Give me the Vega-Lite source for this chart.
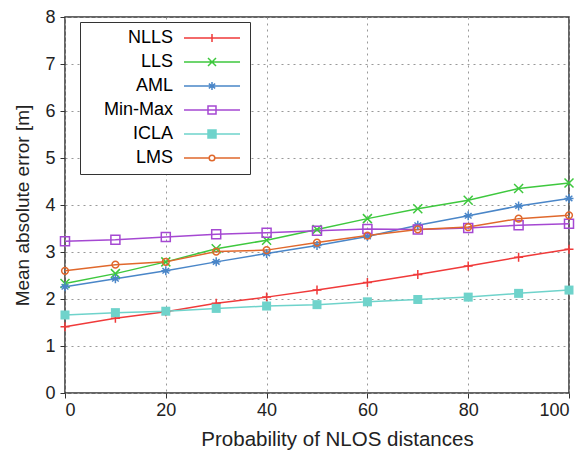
{
  "$schema": "https://vega.github.io/schema/vega-lite/v6.json",
  "width": 504,
  "height": 376,
  "autosize": "none",
  "padding": {"left": 65, "top": 17, "right": 19, "bottom": 61},
  "background": "white",
  "config": {
    "view": {"stroke": "#333333", "strokeWidth": 1.5},
    "font": "Liberation Sans",
    "axis": {
      "labelFont": "Liberation Sans",
      "titleFont": "Liberation Sans",
      "labelFontSize": 18,
      "titleFontSize": 19,
      "titleFontWeight": "normal",
      "labelColor": "#222222",
      "titleColor": "#222222",
      "grid": true,
      "gridColor": "#999999",
      "gridDash": [2, 4],
      "gridWidth": 1,
      "domain": false,
      "tickColor": "#333333",
      "tickSize": 5
    },
    "legend": {
      "labelFont": "Liberation Sans",
      "labelFontSize": 18
    }
  },
  "data": {
    "values": [
      {"x": 0, "series": "NLLS", "y": 1.41},
      {"x": 10, "series": "NLLS", "y": 1.59},
      {"x": 20, "series": "NLLS", "y": 1.73},
      {"x": 30, "series": "NLLS", "y": 1.91},
      {"x": 40, "series": "NLLS", "y": 2.04},
      {"x": 50, "series": "NLLS", "y": 2.19},
      {"x": 60, "series": "NLLS", "y": 2.35},
      {"x": 70, "series": "NLLS", "y": 2.52},
      {"x": 80, "series": "NLLS", "y": 2.7},
      {"x": 90, "series": "NLLS", "y": 2.89},
      {"x": 100, "series": "NLLS", "y": 3.06},
      {"x": 0, "series": "LLS", "y": 2.33},
      {"x": 10, "series": "LLS", "y": 2.54},
      {"x": 20, "series": "LLS", "y": 2.79},
      {"x": 30, "series": "LLS", "y": 3.07},
      {"x": 40, "series": "LLS", "y": 3.25},
      {"x": 50, "series": "LLS", "y": 3.48},
      {"x": 60, "series": "LLS", "y": 3.71},
      {"x": 70, "series": "LLS", "y": 3.92},
      {"x": 80, "series": "LLS", "y": 4.1},
      {"x": 90, "series": "LLS", "y": 4.35},
      {"x": 100, "series": "LLS", "y": 4.47},
      {"x": 0, "series": "AML", "y": 2.26},
      {"x": 10, "series": "AML", "y": 2.43},
      {"x": 20, "series": "AML", "y": 2.6},
      {"x": 30, "series": "AML", "y": 2.79},
      {"x": 40, "series": "AML", "y": 2.97},
      {"x": 50, "series": "AML", "y": 3.14},
      {"x": 60, "series": "AML", "y": 3.33},
      {"x": 70, "series": "AML", "y": 3.57},
      {"x": 80, "series": "AML", "y": 3.77},
      {"x": 90, "series": "AML", "y": 3.98},
      {"x": 100, "series": "AML", "y": 4.14},
      {"x": 0, "series": "Min-Max", "y": 3.23},
      {"x": 10, "series": "Min-Max", "y": 3.26},
      {"x": 20, "series": "Min-Max", "y": 3.32},
      {"x": 30, "series": "Min-Max", "y": 3.38},
      {"x": 40, "series": "Min-Max", "y": 3.41},
      {"x": 50, "series": "Min-Max", "y": 3.45},
      {"x": 60, "series": "Min-Max", "y": 3.49},
      {"x": 70, "series": "Min-Max", "y": 3.48},
      {"x": 80, "series": "Min-Max", "y": 3.51},
      {"x": 90, "series": "Min-Max", "y": 3.57},
      {"x": 100, "series": "Min-Max", "y": 3.6},
      {"x": 0, "series": "ICLA", "y": 1.66},
      {"x": 10, "series": "ICLA", "y": 1.71},
      {"x": 20, "series": "ICLA", "y": 1.74},
      {"x": 30, "series": "ICLA", "y": 1.8},
      {"x": 40, "series": "ICLA", "y": 1.85},
      {"x": 50, "series": "ICLA", "y": 1.88},
      {"x": 60, "series": "ICLA", "y": 1.94},
      {"x": 70, "series": "ICLA", "y": 1.99},
      {"x": 80, "series": "ICLA", "y": 2.04},
      {"x": 90, "series": "ICLA", "y": 2.12},
      {"x": 100, "series": "ICLA", "y": 2.19},
      {"x": 0, "series": "LMS", "y": 2.6},
      {"x": 10, "series": "LMS", "y": 2.73},
      {"x": 20, "series": "LMS", "y": 2.79},
      {"x": 30, "series": "LMS", "y": 3.01},
      {"x": 40, "series": "LMS", "y": 3.04},
      {"x": 50, "series": "LMS", "y": 3.2},
      {"x": 60, "series": "LMS", "y": 3.35},
      {"x": 70, "series": "LMS", "y": 3.48},
      {"x": 80, "series": "LMS", "y": 3.53},
      {"x": 90, "series": "LMS", "y": 3.71},
      {"x": 100, "series": "LMS", "y": 3.78}
    ]
  },
  "encoding": {
    "x": {
      "field": "x", "type": "quantitative",
      "scale": {"domain": [0, 100], "nice": false},
      "axis": {"values": [0, 20, 40, 60, 80, 100], "title": "Probability of NLOS distances", "titleFontSize": 20.5, "titlePadding": 10, "titleX": 272, "labelPadding": 3}
    },
    "y": {
      "field": "y", "type": "quantitative",
      "scale": {"domain": [0, 8], "nice": false},
      "axis": {"values": [0, 1, 2, 3, 4, 5, 6, 7, 8], "title": "Mean absolute error [m]", "titlePadding": 12, "labelPadding": 5}
    },
    "color": {
      "field": "series", "type": "nominal",
      "scale": {
        "domain": ["NLLS", "LLS", "AML", "Min-Max", "ICLA", "LMS"],
        "range": ["#f03a3a", "#3ec83e", "#4a86c8", "#a548d2", "#6fd3cb", "#e0682c"]
      },
      "legend": {
        "orient": "none",
        "legendX": 15,
        "legendY": 5,
        "title": null,
        "padding": 7,
        "strokeColor": "#333333",
        "fillColor": "white",
        "symbolSize": 64,
        "symbolStrokeWidth": 1.5,
        "rowPadding": 6,
        "labelAlign": "right",
        "encode": {
          "symbols": {
            "update": {
              "x": {"value": 125},
              "shape": {"signal": "datum.value==='NLLS' ? 'M-7,0H7M0,-1V1' : datum.value==='LLS' ? 'M-7,0H7M-1,-1L1,1M-1,1L1,-1' : datum.value==='AML' ? 'M-7,0H7M0,-1V1M-0.8,-0.6L0.8,0.6M-0.8,0.6L0.8,-0.6' : datum.value==='LMS' ? 'M-7,0H-0.7M0.7,0H7M0.7,0A0.7,0.7 0 1,1 -0.7,0A0.7,0.7 0 1,1 0.7,0Z' : 'M-7,0H7M-1,-1H1V1H-1Z'"},
              "fillOpacity": {"signal": "datum.value==='ICLA' ? 1 : 0"}
            }
          },
          "labels": {
            "update": {"x": {"value": 86}}
          }
        }
      }
    }
  },
  "layer": [
    {
      "mark": {"type": "line", "strokeWidth": 1.5},
      "encoding": {"detail": {"field": "series"}}
    },
    {
      "transform": [{"filter": "datum.series==='NLLS'"}],
      "mark": {"type": "point", "size": 81, "strokeWidth": 1.5, "opacity": 1, "filled": false, "shape": "M0,-1V1M-1,0H1"}
    },
    {
      "transform": [{"filter": "datum.series==='LLS'"}],
      "mark": {"type": "point", "size": 81, "strokeWidth": 1.5, "opacity": 1, "filled": false, "shape": "M-1,-1L1,1M-1,1L1,-1"}
    },
    {
      "transform": [{"filter": "datum.series==='AML'"}],
      "mark": {"type": "point", "size": 81, "strokeWidth": 1.5, "opacity": 1, "filled": false, "shape": "M0,-1V1M-1,0H1M-0.75,-0.6L0.75,0.6M-0.75,0.6L0.75,-0.6"}
    },
    {
      "transform": [{"filter": "datum.series==='Min-Max'"}],
      "mark": {"type": "point", "size": 81, "strokeWidth": 1.5, "opacity": 1, "filled": false, "shape": "M-1,-1H1V1H-1Z"}
    },
    {
      "transform": [{"filter": "datum.series==='ICLA'"}],
      "mark": {"type": "point", "size": 81, "strokeWidth": 1.5, "opacity": 1, "filled": true, "shape": "M-1,-1H1V1H-1Z"}
    },
    {
      "transform": [{"filter": "datum.series==='LMS'"}],
      "mark": {"type": "point", "size": 81, "strokeWidth": 1.5, "opacity": 1, "filled": false, "shape": "M0.75,0A0.75,0.75 0 1,1 -0.75,0A0.75,0.75 0 1,1 0.75,0Z"}
    }
  ]
}
